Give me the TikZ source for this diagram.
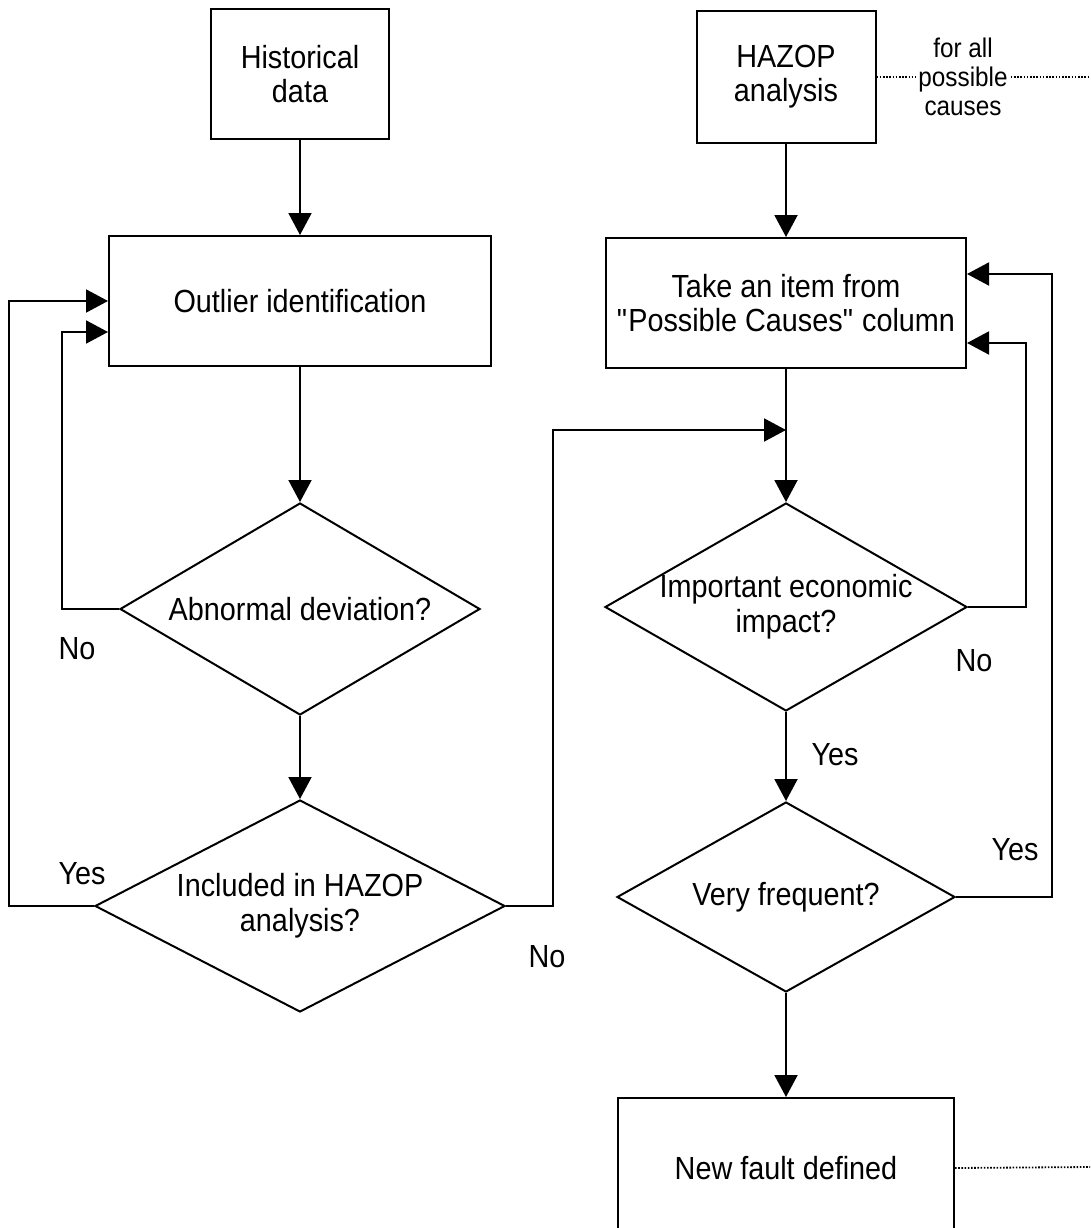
\documentclass[tikz,border=0pt]{standalone}
\usepackage{fontspec}
\setmainfont{Liberation Sans}[FakeStretch=0.9]
\usetikzlibrary{shapes.geometric, arrows.meta}
\tikzset{
  box/.style={rectangle, draw=black, line width=2pt, align=center,
              inner sep=2pt, font=\fontsize{32}{34}\selectfont},
  decision/.style={diamond, draw=black, line width=2pt, align=center,
                   inner xsep=-60pt, inner ysep=0pt, shape aspect=2,
                   font=\fontsize{32}{35}\selectfont},
  flow/.style={line width=2pt, -{Triangle[length=22pt, width=23pt]}},
  dots/.style={line width=1.8pt, dash pattern=on 1.6pt off 1.6pt},
  answer/.style={inner sep=0pt, font=\fontsize{32}{34}\selectfont},
  note/.style={align=center, inner sep=3pt, font=\fontsize{27}{29}\selectfont},
}

\begin{document}
\begin{tikzpicture}[x=1pt, y=-1pt]
    \useasboundingbox (0,0) rectangle (1090,1228);
    \clip (0,0) rectangle (1090,1228);
    %% Left column
    \node[box, minimum width=178pt, minimum height=130pt] (hist) at (300,74) {Historical\\data};
    \node[box, minimum width=382pt, minimum height=130pt] (outl) at (300,301) {Outlier identification};
    \node[decision, minimum width=360pt, minimum height=212pt] (abn) at (300,609) {Abnormal deviation?};
    \node[decision, minimum width=410pt, minimum height=212pt] (incl) at (300,906) {Included in HAZOP\\analysis?};
    %% Right column
    \node[box, minimum width=179pt, minimum height=132pt] (hazop) at (786,77) {HAZOP\\analysis};
    \node[box, minimum width=360pt, minimum height=130pt] (take) at (786,303)
      {Take an item from\\\textquotedbl Possible Causes\textquotedbl{} column};
    \node[decision, minimum width=362pt, minimum height=208pt] (econ) at (786,607) {Important economic\\impact?};
    \node[decision, minimum width=338pt, minimum height=190pt] (freq) at (786,897) {Very frequent?};
    \node[box, anchor=north, minimum width=336pt, minimum height=140pt] (newf) at (786,1097) {New fault defined};
    \node[note] (every) at (963,77) {for all\\possible\\causes};
    %% Answers
    \foreach \n/\x/\y/\t in {no1/77/649/No, yes1/82/874/Yes, no2/547/957/No,
                             no3/974/661/No, yes2/835/755/Yes, yes3/1015/850/Yes}{
      \node[answer] (\n) at (\x,\y) {\t};
    }
    \coordinate (mrg) at (786,430);
    \coordinate (rimA) at (1090,77);
    \coordinate (rimB) at (1090,1167);
    %% Main flow
    \draw[flow] (hist) -- (outl);
    \draw[flow] (outl) -- (abn);
    \draw[flow] (abn) -- (incl);
    \draw[flow] (hazop) -- (take);
    \draw[flow] (take) -- (econ);
    \draw[flow] (econ) -- (freq);
    \draw[flow] (freq) -- (newf);
    %% Loops
    \draw[flow] (abn.west) -- ++(-57,0) |- ([yshift=-31pt]outl.west);
    \draw[flow] (incl.west) -- ++(-85,0) |- (outl.west);
    \draw[flow] (incl.east) -- ++(47,0) |- (mrg);
    \draw[flow] (econ.east) -- ++(58,0) |- ([yshift=-40pt]take.east);
    \draw[flow] (freq.east) -- ++(96,0) |- ([yshift=29pt]take.east);
    %% Dotted links
    \draw[dots] (hazop.east) -- (every.west);
    \draw[dots] (every.east) -- (rimA);
    \draw[dots] (newf.east) -- (rimB);
\end{tikzpicture}
\end{document}
